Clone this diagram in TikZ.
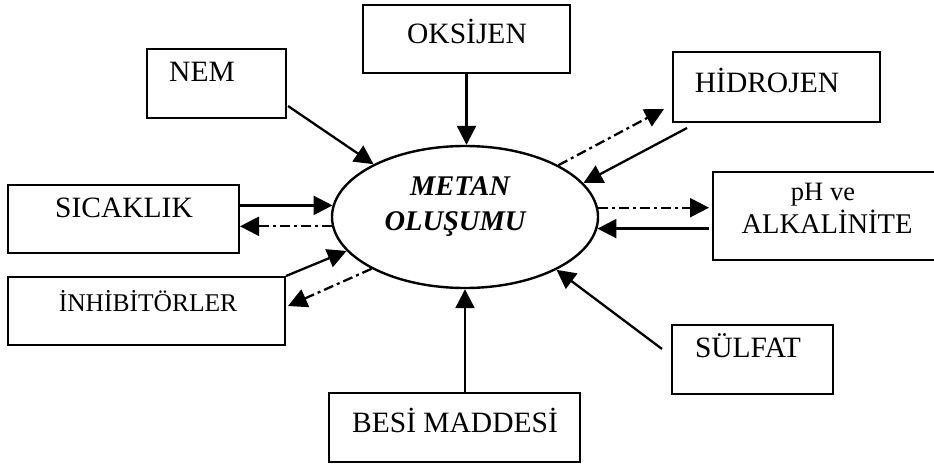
\documentclass[tikz,border=0pt]{standalone}
\usepackage{fontspec}
\setmainfont{Liberation Serif}
\usetikzlibrary{arrows.meta,calc,shapes.geometric}
\begin{document}
\begin{tikzpicture}[x=1pt,y=-1pt,
  box/.style={draw, line width=2pt, inner sep=0pt},
  lbl/.style={anchor=base, inner sep=0pt, font=\fontsize{29.5}{31}\selectfont},
  ell/.style={draw, ellipse, line width=2.4pt, minimum width=266pt, minimum height=142pt, inner sep=0pt},
  sarr/.style={line width=2.3pt, -{Triangle[length=19pt,width=19pt]}},
  darr/.style={sarr, dash pattern=on 10pt off 4pt on 3pt off 4pt},
]
\useasboundingbox (0,0) rectangle (934,466);
\fill[white] (0,0) rectangle (934,466);

% boxes
\node[box, minimum width=207pt, minimum height=68pt] (oks) at (466.5,39) {};
\node[box, minimum width=139pt, minimum height=69pt] (nem) at (216.5,83.5) {};
\node[box, minimum width=231pt, minimum height=68pt] (sic) at (123.5,219) {};
\node[box, minimum width=277pt, minimum height=68pt] (inh) at (146.5,311) {};
\node[box, minimum width=207pt, minimum height=70pt] (hid) at (776.5,87) {};
\node[box, minimum width=227pt, minimum height=88pt] (ph) at (826.5,216) {};
\node[box, minimum width=161pt, minimum height=69pt] (sul) at (752.5,359.5) {};
\node[box, minimum width=251pt, minimum height=69pt] (besi) at (454.5,427.5) {};
\node[ell] (met) at (465,217) {};

% labels
\node[lbl] (oksT) at (467,43) {OKSİJEN};
\node[lbl] (nemT) at (202,81) {NEM};
\node[lbl] (hidT) at (767,92) {HİDROJEN};
\node[lbl] (sicT) at (124,217) {SICAKLIK};
\node[lbl, font=\fontsize{25.5}{27}\selectfont] (inhT) at (148,311) {İNHİBİTÖRLER};
\node[lbl, font=\fontsize{26.5}{28}\selectfont] (phT1) at (823,200) {pH ve};
\node[lbl, font=\fontsize{28.5}{30}\selectfont] (phT2) at (827,233) {ALKALİNİTE};
\node[lbl] (sulT) at (748,357) {SÜLFAT};
\node[lbl] (besT) at (455,432) {BESİ MADDESİ};
\node[lbl, font=\fontsize{28.5}{30}\selectfont\bfseries\itshape] (metT1) at (460,195) {METAN};
\node[lbl, font=\fontsize{28.5}{30}\selectfont\bfseries\itshape] (metT2) at (455,230) {OLUŞUMU};

% connectors
\draw[sarr] (oks.south) -- (oks.south |- met.north);
\draw[sarr] ($(nem.south east)+(1,-13)$) -- (met.150);
\draw[darr] (met.29) -- ($(hid.south west)+(-8,-14)$);
\draw[sarr] ($(hid.south west)+(15,5)$) -- (met.16);
\draw[darr] (met.4) -- ([xshift=-3pt]met.4 -| ph.west);
\draw[sarr] ([xshift=-3pt]met.-5 -| ph.west) -- (met.-5);
\draw[sarr] (met.175 -| sic.east) -- (met.175);
\draw[darr] (met.184) -- (met.184 -| sic.east);
\draw[sarr] (inh.north east) -- (met.196);
\draw[darr] (met.209) -- ($(inh.north east)+(2,30)$);
\draw[sarr] (besi.north -| met.south) -- (met.south);
\draw[sarr] ($(sul.north west)+(-9,25)$) -- (met.330);
\end{tikzpicture}
\end{document}
